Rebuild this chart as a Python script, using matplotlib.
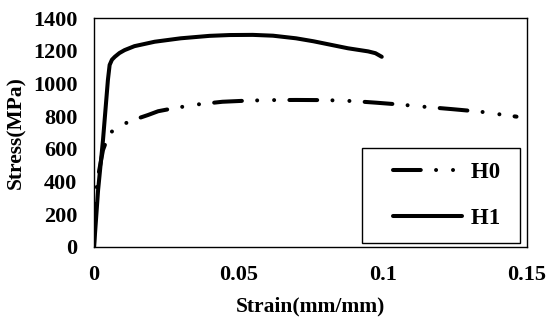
import matplotlib.pyplot as plt
from matplotlib.legend_handler import HandlerLine2D

# Stress-strain data
h0_strain = [0.0, 0.0002, 0.0006, 0.0018, 0.0031, 0.0048, 0.0066, 0.0095, 0.0135,
             0.0187, 0.0222, 0.0275, 0.0350, 0.0445, 0.0520, 0.0600, 0.0700,
             0.0806, 0.0900, 0.0980, 0.1060, 0.1140, 0.1240, 0.1340, 0.1464]
h0_stress = [0, 200, 330, 470, 593, 674, 715, 746, 776,
             807, 830, 848, 870, 888, 894, 898, 899,
             898, 892, 882, 871, 858, 843, 827, 797]

h1_strain = [0.0, 0.0014, 0.0031, 0.0048, 0.0054, 0.0062, 0.0072, 0.0088, 0.0106,
             0.0140, 0.0210, 0.0300, 0.0400, 0.0470, 0.0550, 0.0620, 0.0700,
             0.0760, 0.0880, 0.0950, 0.0975, 0.0997]
h1_stress = [0, 348, 654, 1021, 1113, 1145, 1163, 1186, 1204,
             1228, 1255, 1276, 1291, 1296, 1297, 1292, 1276,
             1258, 1215, 1196, 1185, 1163]

labels = ['H0', 'H1']
x_ticks = [0, 0.05, 0.1, 0.15]
x_tick_labels = ['0', '0.05', '0.1', '0.15']
y_ticks = [0, 200, 400, 600, 800, 1000, 1200, 1400]

plt.rcParams['font.family'] = 'Liberation Serif'
plt.rcParams['font.weight'] = 'bold'
plt.rcParams['lines.scale_dashes'] = False

fig = plt.figure(figsize=(5.5, 3.22), dpi=100)
ax = fig.add_axes([0.171, 0.233, 0.787, 0.711])

ax.plot(h0_strain, h0_stress, color='black', lw=2.9,
        linestyle=(0, (20, 11, 0.01, 12.2, 0.01, 11)), dash_capstyle='round',
        label=labels[0] + ' ')
ax.plot(h1_strain, h1_stress, color='black', lw=2.9, solid_capstyle='round',
        solid_joinstyle='round', label=labels[1] + ' ')

ax.set_xlim(0, 0.15)
ax.set_ylim(0, 1400)
ax.set_xticks(x_ticks)
ax.set_xticklabels(x_tick_labels)
ax.set_yticks(y_ticks)
ax.tick_params(length=0, labelsize=16, pad=12)
ax.tick_params(axis='x', pad=13)
for s in ax.spines.values():
    s.set_linewidth(1.0)

ax.set_xlabel('Strain(mm/mm)', fontsize=15.5, fontweight='bold', labelpad=8)
ax.set_ylabel('Stress(MPa)', fontsize=15.5, fontweight='bold', labelpad=5)

leg = ax.legend(loc='lower right', bbox_to_anchor=(0.984, 0.017), borderaxespad=0,
                fontsize=16.5, handlelength=3.75, handletextpad=0.4,
                labelspacing=1.1, borderpad=0.6, fancybox=False, framealpha=1,
                handler_map={plt.Line2D: HandlerLine2D(xpad=0.75)})
leg.get_frame().set_edgecolor('black')
leg.get_frame().set_linewidth(1.0)

fig.savefig('out.png', dpi=100)
